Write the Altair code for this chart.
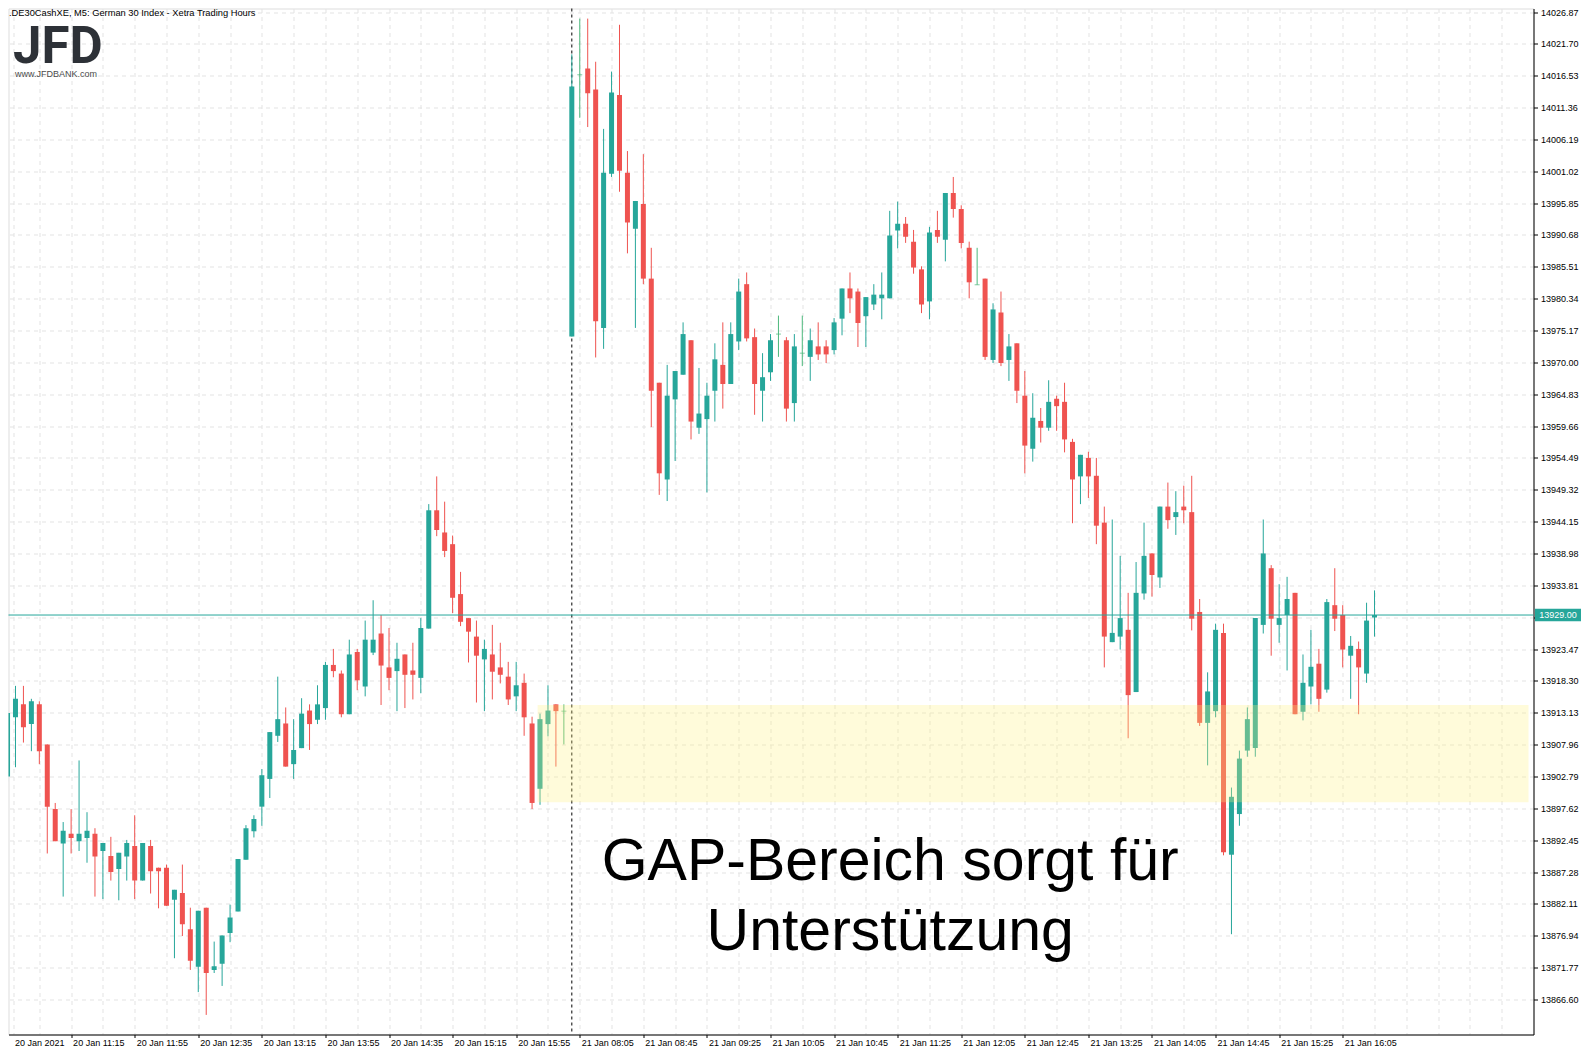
import altair as alt
import pandas as pd

# ---------------- data ----------------
opens = [13902.8, 13912.4, 13914.5, 13911.3, 13914.5, 13908.0, 13897.5, 13891.9, 13893.5, 13892.3,
         13892.8, 13893.5, 13890.7, 13889.9, 13887.8, 13889.8, 13891.5, 13885.9, 13891.5, 13888.0,
         13888.0, 13882.8, 13883.9, 13878.0, 13871.9, 13881.5, 13871.4, 13872.4, 13877.4, 13880.9,
         13889.3, 13893.9, 13897.9, 13902.4, 13909.4, 13911.4, 13904.8, 13907.4, 13913.5, 13912.0,
         13913.9, 13920.9, 13919.5, 13912.9, 13923.0, 13917.4, 13922.9, 13926.0, 13920.5, 13919.9,
         13922.6, 13920.0, 13918.8, 13926.8, 13946.0, 13942.4, 13940.5, 13932.4, 13928.5, 13925.5,
         13921.8, 13922.6, 13920.5, 13919.0, 13915.8, 13918.0, 13911.4, 13900.8, 13911.3, 13914.5,
         13913.4, 13974.2, 14016.7, 14017.7, 14014.3, 13975.6, 14000.6, 14013.4, 14000.8, 13991.7,
         13995.7, 13983.6, 13966.7, 13951.0, 13964.0, 13968.0, 13973.6, 13959.4, 13960.8, 13965.4,
         13969.6, 13966.5, 13973.4, 13982.7, 13974.1, 13965.4, 13968.4, 13974.6, 13973.6, 13963.4,
         13971.5, 13970.9, 13972.6, 13972.6, 13972.0, 13977.1, 13982.0, 13981.5, 13977.5, 13979.4,
         13980.4, 13980.4, 13991.4, 13992.5, 13989.6, 13985.1, 13979.9, 13991.5, 13989.9, 13997.5,
         13994.9, 13988.6, 13982.6, 13983.6, 13970.4, 13978.1, 13970.4, 13973.1, 13964.6, 13956.0,
         13960.5, 13959.4, 13964.1, 13963.6, 13957.1, 13951.5, 13954.5, 13951.6, 13944.0, 13924.6,
         13925.5, 13926.6, 13916.5, 13932.5, 13939.0, 13935.1, 13946.6, 13944.9, 13946.6, 13945.7,
         13929.5, 13911.5, 13913.4, 13926.1, 13890.1, 13896.7, 13907.0, 13907.4, 13927.4, 13936.6,
         13927.4, 13929.0, 13932.6, 13913.3, 13917.4, 13921.1, 13916.9, 13930.6, 13929.0, 13922.4,
         13923.5, 13919.5, 13928.6]
highs = [13915.0, 13917.5, 13917.5, 13915.4, 13915.0, 13908.0, 13898.5, 13895.4, 13897.5, 13905.4,
         13897.0, 13894.4, 13892.0, 13893.0, 13890.4, 13892.5, 13896.5, 13892.0, 13892.5, 13888.0,
         13888.5, 13884.4, 13888.5, 13881.5, 13881.0, 13881.5, 13876.0, 13877.0, 13882.0, 13889.4,
         13894.9, 13896.5, 13904.0, 13910.0, 13919.0, 13914.0, 13912.1, 13915.5, 13914.5, 13917.6,
         13921.4, 13923.5, 13920.0, 13925.0, 13923.5, 13928.1, 13931.4, 13929.0, 13926.9, 13924.5,
         13922.6, 13924.5, 13928.5, 13947.0, 13951.5, 13947.4, 13941.9, 13936.0, 13928.5, 13928.1,
         13925.0, 13927.4, 13924.5, 13921.4, 13921.4, 13919.5, 13912.5, 13913.0, 13917.6, 13914.5,
         13914.5, 14020.0, 14025.8, 14025.8, 14018.8, 14007.9, 14017.2, 14024.8, 14004.3, 13996.2,
         14003.8, 13988.6, 13966.7, 13969.6, 13968.6, 13976.5, 13973.6, 13969.1, 13966.7, 13973.1,
         13976.5, 13976.5, 13983.6, 13984.6, 13975.5, 13971.5, 13974.6, 13977.6, 13974.1, 13974.6,
         13977.6, 13975.5, 13976.5, 13973.6, 13977.2, 13982.0, 13984.6, 13982.0, 13980.6, 13982.7,
         13984.6, 13994.6, 13996.1, 13993.6, 13991.5, 13985.6, 13992.0, 13994.6, 13997.5, 14000.1,
         13995.5, 13989.6, 13988.6, 13983.6, 13979.6, 13981.5, 13974.6, 13973.1, 13968.6, 13965.0,
         13962.6, 13967.1, 13964.6, 13966.7, 13957.6, 13955.0, 13955.5, 13954.5, 13946.6, 13944.5,
         13938.6, 13932.6, 13937.6, 13944.0, 13939.0, 13946.6, 13950.5, 13949.1, 13950.0, 13951.6,
         13931.6, 13919.7, 13927.6, 13927.6, 13901.0, 13907.0, 13914.0, 13928.5, 13944.5, 13937.1,
         13934.0, 13935.2, 13932.6, 13922.6, 13926.6, 13923.5, 13931.6, 13936.6, 13930.6, 13925.6,
         13924.7, 13931.0, 13933.0]
lows = [13902.0, 13904.3, 13908.3, 13906.9, 13904.8, 13890.3, 13892.3, 13883.3, 13890.3, 13890.7,
        13888.8, 13883.3, 13882.9, 13885.9, 13882.7, 13885.9, 13882.9, 13885.9, 13883.8, 13881.4,
        13881.8, 13873.3, 13876.9, 13871.4, 13867.8, 13864.1, 13870.9, 13868.8, 13875.9, 13880.9,
        13889.3, 13892.9, 13894.8, 13899.3, 13908.4, 13904.4, 13902.4, 13907.4, 13907.1, 13911.3,
        13912.0, 13918.9, 13912.4, 13912.9, 13916.8, 13915.8, 13922.5, 13914.4, 13916.8, 13913.4,
        13913.9, 13915.3, 13916.3, 13926.8, 13941.8, 13938.4, 13929.3, 13927.2, 13921.3, 13914.8,
        13913.4, 13915.3, 13917.9, 13914.4, 13913.4, 13909.4, 13897.5, 13898.2, 13909.3, 13904.4,
        13908.0, 13974.2, 14009.7, 14008.2, 13970.8, 13972.2, 14000.1, 13997.7, 13987.7, 13975.6,
        13982.7, 13959.5, 13948.5, 13947.5, 13954.0, 13968.0, 13957.5, 13958.4, 13948.9, 13960.4,
        13962.5, 13966.5, 13972.0, 13973.4, 13961.5, 13960.4, 13967.0, 13970.9, 13960.4, 13960.4,
        13969.4, 13967.0, 13970.4, 13969.9, 13971.3, 13974.4, 13978.0, 13972.5, 13972.5, 13978.5,
        13977.0, 13980.4, 13988.5, 13989.4, 13984.4, 13978.0, 13977.0, 13989.4, 13986.4, 13993.5,
        13988.5, 13980.4, 13982.6, 13970.4, 13969.9, 13969.4, 13967.0, 13963.4, 13952.0, 13953.9,
        13957.0, 13958.9, 13958.9, 13955.4, 13943.9, 13947.0, 13948.0, 13940.5, 13920.5, 13924.6,
        13923.4, 13909.0, 13916.5, 13931.5, 13932.0, 13933.4, 13943.0, 13942.0, 13943.9, 13926.5,
        13911.0, 13904.6, 13912.4, 13890.0, 13877.2, 13894.8, 13906.0, 13906.0, 13926.0, 13922.4,
        13924.5, 13920.0, 13912.9, 13911.9, 13914.5, 13913.3, 13916.4, 13926.4, 13920.5, 13915.4,
        13912.9, 13918.0, 13925.5]
closes = [13913.1, 13915.4, 13910.8, 13915.0, 13906.9, 13897.9, 13892.3, 13894.0, 13892.8, 13893.5,
          13894.0, 13889.8, 13892.0, 13887.3, 13890.4, 13892.0, 13885.9, 13892.0, 13887.4, 13887.4,
          13881.8, 13884.4, 13878.8, 13872.9, 13881.0, 13870.9, 13872.0, 13877.0, 13879.9, 13889.4,
          13894.4, 13895.9, 13903.0, 13910.0, 13912.1, 13904.4, 13907.1, 13913.0, 13911.3, 13914.5,
          13920.9, 13919.9, 13912.9, 13922.6, 13918.4, 13925.0, 13925.0, 13920.8, 13918.8, 13921.9,
          13919.3, 13919.3, 13926.9, 13946.0, 13942.8, 13939.4, 13931.8, 13927.9, 13926.3, 13922.4,
          13923.5, 13919.8, 13919.3, 13915.3, 13917.6, 13912.4, 13898.5, 13912.1, 13913.5, 13913.4,
          13913.4, 14014.8, 14016.7, 14013.7, 13976.7, 14000.8, 14013.8, 14001.1, 13992.7, 13996.2,
          13983.6, 13965.4, 13952.0, 13964.6, 13968.6, 13974.6, 13960.4, 13961.7, 13964.6, 13970.5,
          13966.5, 13974.6, 13981.5, 13973.9, 13966.5, 13967.6, 13973.6, 13974.6, 13962.5, 13972.6,
          13971.5, 13973.6, 13971.3, 13971.3, 13976.5, 13982.0, 13980.4, 13976.4, 13980.6, 13981.0,
          13981.0, 13990.6, 13992.5, 13990.4, 13985.4, 13979.4, 13991.1, 13990.4, 13997.5, 13994.9,
          13989.4, 13983.0, 13982.6, 13970.9, 13978.6, 13969.9, 13972.6, 13965.4, 13956.5, 13961.0,
          13959.4, 13963.6, 13962.9, 13957.5, 13951.0, 13955.0, 13951.5, 13943.5, 13925.5, 13926.1,
          13928.5, 13916.0, 13932.6, 13938.6, 13935.5, 13946.6, 13944.4, 13945.7, 13946.0, 13928.4,
          13911.5, 13916.6, 13926.6, 13890.5, 13899.5, 13905.7, 13912.1, 13928.5, 13939.0, 13928.4,
          13928.5, 13931.6, 13912.9, 13918.0, 13920.6, 13915.4, 13931.1, 13928.4, 13923.4, 13924.0,
          13920.5, 13928.1, 13929.0]

x_labels = ["20 Jan 2021", "20 Jan 11:15", "20 Jan 11:55", "20 Jan 12:35", "20 Jan 13:15",
            "20 Jan 13:55", "20 Jan 14:35", "20 Jan 15:15", "20 Jan 15:55", "21 Jan 08:05",
            "21 Jan 08:45", "21 Jan 09:25", "21 Jan 10:05", "21 Jan 10:45", "21 Jan 11:25",
            "21 Jan 12:05", "21 Jan 12:45", "21 Jan 13:25", "21 Jan 14:05", "21 Jan 14:45",
            "21 Jan 15:25", "21 Jan 16:05"]
y_ticks = [14026.87, 14021.70, 14016.53, 14011.36, 14006.19, 14001.02, 13995.85, 13990.68,
           13985.51, 13980.34, 13975.17, 13970.00, 13964.83, 13959.66, 13954.49, 13949.32,
           13944.15, 13938.98, 13933.81, 13928.64, 13923.47, 13918.30, 13913.13, 13907.96,
           13902.79, 13897.62, 13892.45, 13887.28, 13882.11, 13876.94, 13871.77, 13866.60]

day_break = [71]
gap_from = [66.7]
gap_top = [13914.4]
gap_bottom = [13898.6]
last_price = [13929.00]
title_text = [".DE30CashXE, M5:  German 30 Index  - Xetra Trading Hours"]
note_text = ["GAP-Bereich sorgt für\nUnterstützung"]
note_at = [111.06]
note_price = [13886.0]

# ---------------- layout ----------------
W, H = 1525, 1026
X_DOM = [0.75, 191.375]
Y_DOM = [13860.92, 14027.44]
TEAL, RED, DOJI = "#26a69a", "#ef5350", "#4cb87c"
GRID = "#e3e3e3"
FONT = "Liberation Sans"

n = len(opens)
direction = ["up" if c > o else ("down" if c < o else "flat") for o, c in zip(opens, closes)]
df = pd.DataFrame({"i": list(range(n)), "open": opens, "high": highs, "low": lows,
                   "close": closes, "dir": direction})

xs = alt.Scale(domain=X_DOM, nice=False, zero=False)
ys = alt.Scale(domain=Y_DOM, nice=False, zero=False)

labels_js = "[" + ",".join("'" + s + "'" for s in x_labels) + "]"
last_lab = 8 * (len(x_labels) - 1)
is_lab = "(datum.value % 8 === 0 && datum.value <= " + str(last_lab) + ")"
x_axis = alt.Axis(
    values=[X_DOM[0]] + list(range(4, 190, 4)),
    labelExpr="datum.value < 1 ? " + labels_js + "[0] : (" + is_lab + " ? " + labels_js
              + "[datum.value / 8] : '')",
    grid=True, gridColor=GRID, gridDash=[4, 4], gridWidth=1,
    ticks=True, tickColor="black", tickSize=3,
    tickOpacity={"condition": {"test": is_lab, "value": 1}, "value": 0},
    domain=True, domainColor="black", domainWidth=1,
    labelColor="black", labelFont=FONT, labelFontSize=9,
    labelAlign="left", labelBaseline="top", labelPadding=1,
    labelOffset={"condition": {"test": "datum.value < 1", "value": 1}, "value": 1.5},
    labelFlush=False, labelOverlap=False, labelBound=False, title=None,
)
y_axis = alt.Axis(
    orient="right", values=y_ticks, format=".2f",
    grid=True, gridColor=GRID, gridDash=[4, 4], gridWidth=1,
    ticks=True, tickColor="black", tickSize=4,
    domain=True, domainColor="black", domainWidth=1,
    labelColor="black", labelFont=FONT, labelFontSize=9, labelPadding=3,
    labelFlush=False, labelOverlap=False, labelBound=False, title=None,
)

color = alt.Color("dir:N", scale=alt.Scale(domain=["up", "down", "flat"],
                                           range=[TEAL, RED, DOJI]), legend=None)

base = alt.Chart(df)
X = alt.X("i:Q", scale=xs, axis=x_axis)

sep = alt.Chart(pd.DataFrame({"i": day_break})).mark_rule(
    color="black", strokeWidth=1, strokeDash=[3, 3]).encode(x=X)

wicks = base.mark_rule(strokeWidth=1, clip=True).encode(
    x=X, y=alt.Y("low:Q", scale=ys, axis=y_axis), y2="high:Q", color=color)

bodies = base.transform_filter("datum.dir != 'flat'").mark_bar(size=5, clip=True).encode(
    x=X, y=alt.Y("open:Q", scale=ys, axis=y_axis), y2="close:Q", color=color)

dojis = base.transform_filter("datum.dir == 'flat'").mark_tick(
    orient="horizontal", size=5, thickness=1, clip=True).encode(
    x=X, y=alt.Y("open:Q", scale=ys, axis=y_axis), color=color)

zone = alt.Chart(pd.DataFrame({"x1": gap_from, "x2": [X_DOM[1]], "top": gap_top,
                               "bottom": gap_bottom})).mark_rect(
    color="#fff07f", opacity=0.29, clip=True).encode(
    x=alt.X("x1:Q", scale=xs, axis=x_axis), x2="x2:Q",
    y=alt.Y("top:Q", scale=ys, axis=y_axis), y2="bottom:Q")

price_df = pd.DataFrame({"price": last_price})
price_line = alt.Chart(price_df).mark_rule(color=TEAL, strokeWidth=1).encode(
    y=alt.Y("price:Q", scale=ys, axis=y_axis))

box_shape = "M-1,-0.27L1,-0.27L1,0.27L-1,0.27Z"
price_box = alt.Chart(price_df).mark_point(
    shape=box_shape, size=46 * 46, filled=True, color=TEAL, opacity=1, strokeWidth=0).encode(
    x=alt.value(W + 24.5), y=alt.Y("price:Q", scale=ys, axis=y_axis))
price_txt = alt.Chart(price_df).mark_text(
    color="white", font=FONT, fontSize=9, align="center", baseline="middle").encode(
    x=alt.value(W + 24.5), y=alt.Y("price:Q", scale=ys, axis=y_axis),
    text=alt.Text("price:Q", format=".2f"))

note = alt.Chart(pd.DataFrame({"i": note_at, "price": note_price, "t": note_text})).mark_text(
    font=FONT, fontSize=59, color="black", align="center", baseline="alphabetic",
    lineBreak="\n", lineHeight=70).encode(
    x=alt.X("i:Q", scale=xs, axis=x_axis), y=alt.Y("price:Q", scale=ys, axis=y_axis), text="t:N")

title = alt.Chart(pd.DataFrame({"t": title_text})).mark_text(
    font=FONT, fontSize=9.3, color="black", align="left", baseline="top").encode(
    x=alt.value(0.5), y=alt.value(0.5), text="t:N")

logo = alt.Chart(pd.DataFrame({"t": ["JFD"]})).mark_text(
    font="Roboto", fontWeight="bold", fontSize=51, color="#2d3137",
    align="left", baseline="alphabetic").encode(
    x=alt.value(4.5), y=alt.value(54.5), text="t:N")

logo_url = alt.Chart(pd.DataFrame({"t": ["www.JFDBANK.com"]})).mark_text(
    font=FONT, fontSize=9, color="#4a4a4a", align="left", baseline="alphabetic").encode(
    x=alt.value(6.5), y=alt.value(68.5), text="t:N")

chart = alt.layer(
    sep, wicks, bodies, dojis, zone, price_line, price_box, price_txt, note, title, logo, logo_url
).properties(
    width=W, height=H,
    padding={"left": 0.5, "top": 0.5, "right": 50, "bottom": 16},
    autosize=alt.AutoSizeParams(type="none"),
).configure_view(stroke="black", strokeWidth=1).configure(background="white")

chart.save("out.html", embed_options={"renderer": "svg", "actions": False})
